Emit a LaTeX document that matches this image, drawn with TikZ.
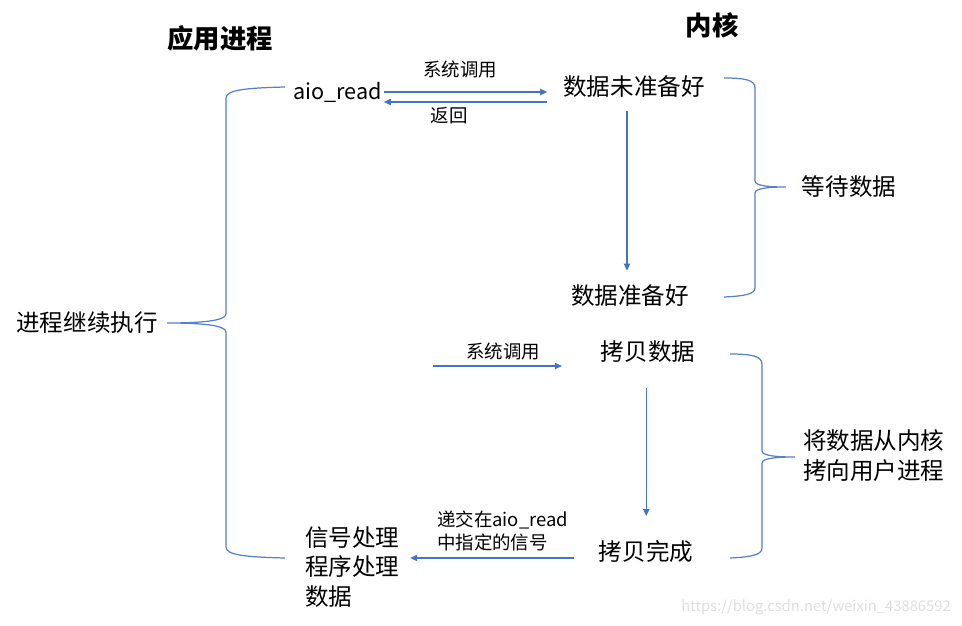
\documentclass[tikz,border=0pt]{standalone}
\usepackage{fontspec}
\setmainfont{Noto Sans CJK SC}
\usepackage{tikz}
\usetikzlibrary{arrows.meta, positioning, calc}
\definecolor{arblue}{RGB}{68,114,196}
\definecolor{brblue}{RGB}{86,128,202}
\tikzset{
  txt/.style ={inner sep=1pt, font=\fontsize{13.4}{17}\selectfont, align=left},
  lbl/.style ={inner sep=1pt, font=\fontsize{10.5}{13}\selectfont, align=left},
  ttl/.style ={inner sep=1pt, font=\fontsize{15}{18}\selectfont\bfseries},
  ar/.style  ={-{Triangle[length=4pt, width=3.6pt]}, draw=arblue, line width=0.6pt},
  brc/.style ={draw=brblue, line width=0.7pt},
}
\begin{document}
\begin{tikzpicture}[x=0.02cm, y=-0.02cm]
\useasboundingbox (0,0) rectangle (962,625);

% titles
\node[ttl] (app) at (220,38) {应用进程};
\node[ttl] (krn) at (712,25) {内核};

% first phase
\node[txt, anchor=west, font=\fontsize{12.3}{15}\selectfont] (aio) at (291,92) {aio\_read};
\node[txt] (nw) at (634,87) {数据未准备好};
\node[txt] (nr) at (630,296) {数据准备好};
\node[txt] (wd) at (849,187) {等待数据};
\draw[ar, shorten >=8pt] (aio.east) -- (aio.east -| nw.west);
\draw[ar, shorten <=8pt] ([yshift=-5.7pt]aio.east -| nw.west) -- ([yshift=-5.7pt]aio.east);
\node[lbl] (sc1) at (460,69) {系统调用};
\node[lbl] (ret) at (449,116) {返回};
\draw[ar, shorten <=6pt, shorten >=7pt] ([xshift=-4pt]nw.south) -- ([xshift=-4pt]nw.south |- nr.north);

% second phase
\node[txt] (cont) at (87,323) {进程继续执行};
\node[txt] (cp) at (648,352) {拷贝数据};
\node[txt] (cd) at (646,552) {拷贝完成};
\node[txt, anchor=west] (sig) at (303,567) {信号处理\\程序处理\\数据};
\node[txt, anchor=west] (cpy) at (801,456) {将数据从内核\\拷向用户进程};
\coordinate (s2) at (433,366);
\draw[ar, shorten >=21pt] (s2) -- (s2 -| cp.west);
\node[lbl] (sc2) at (503,351) {系统调用};
\draw[ar, shorten <=13pt, shorten >=13pt] ([xshift=-1pt]cp.south) -- ([xshift=-1pt]cp.south |- cd.north);
\draw[ar, shorten <=13pt, shorten >=5pt] ([yshift=-3.4pt]cd.west) -- ([yshift=-3.4pt]cd.west -| sig.east);
\node[lbl, anchor=west] (dlv) at (435,531) {递交在aio\_read\\中指定的信号};

% braces
\draw[brc] (285,87) .. controls (245,88) and (226,90) .. (226,98)
  -- (226,314) .. controls (226,321) and (200,323) .. (167,323)
  .. controls (200,323) and (226,325) .. (226,332)
  -- (226,547) .. controls (226,555) and (245,557) .. (285,558);
\draw[brc] (724,78) .. controls (745,78) and (755,80) .. (755,88)
  -- (755,181) .. controls (755,186) and (770,187) .. (786,187)
  .. controls (770,187) and (755,188) .. (755,193)
  -- (755,288) .. controls (755,294) and (745,296) .. (724,297);
\draw[brc] (730,354) .. controls (751,354) and (762,356) .. (762,364)
  -- (762,451) .. controls (762,456) and (778,457) .. (795,457)
  .. controls (778,457) and (762,458) .. (762,463)
  -- (762,548) .. controls (762,555) and (751,557) .. (730,558);

% watermark
\node[inner sep=0pt, text=black!13, font=\fontsize{8.4}{10}\selectfont] (wm) at (816,607) {https://blog.csdn.net/weixin\_43886592};
\end{tikzpicture}
\end{document}
